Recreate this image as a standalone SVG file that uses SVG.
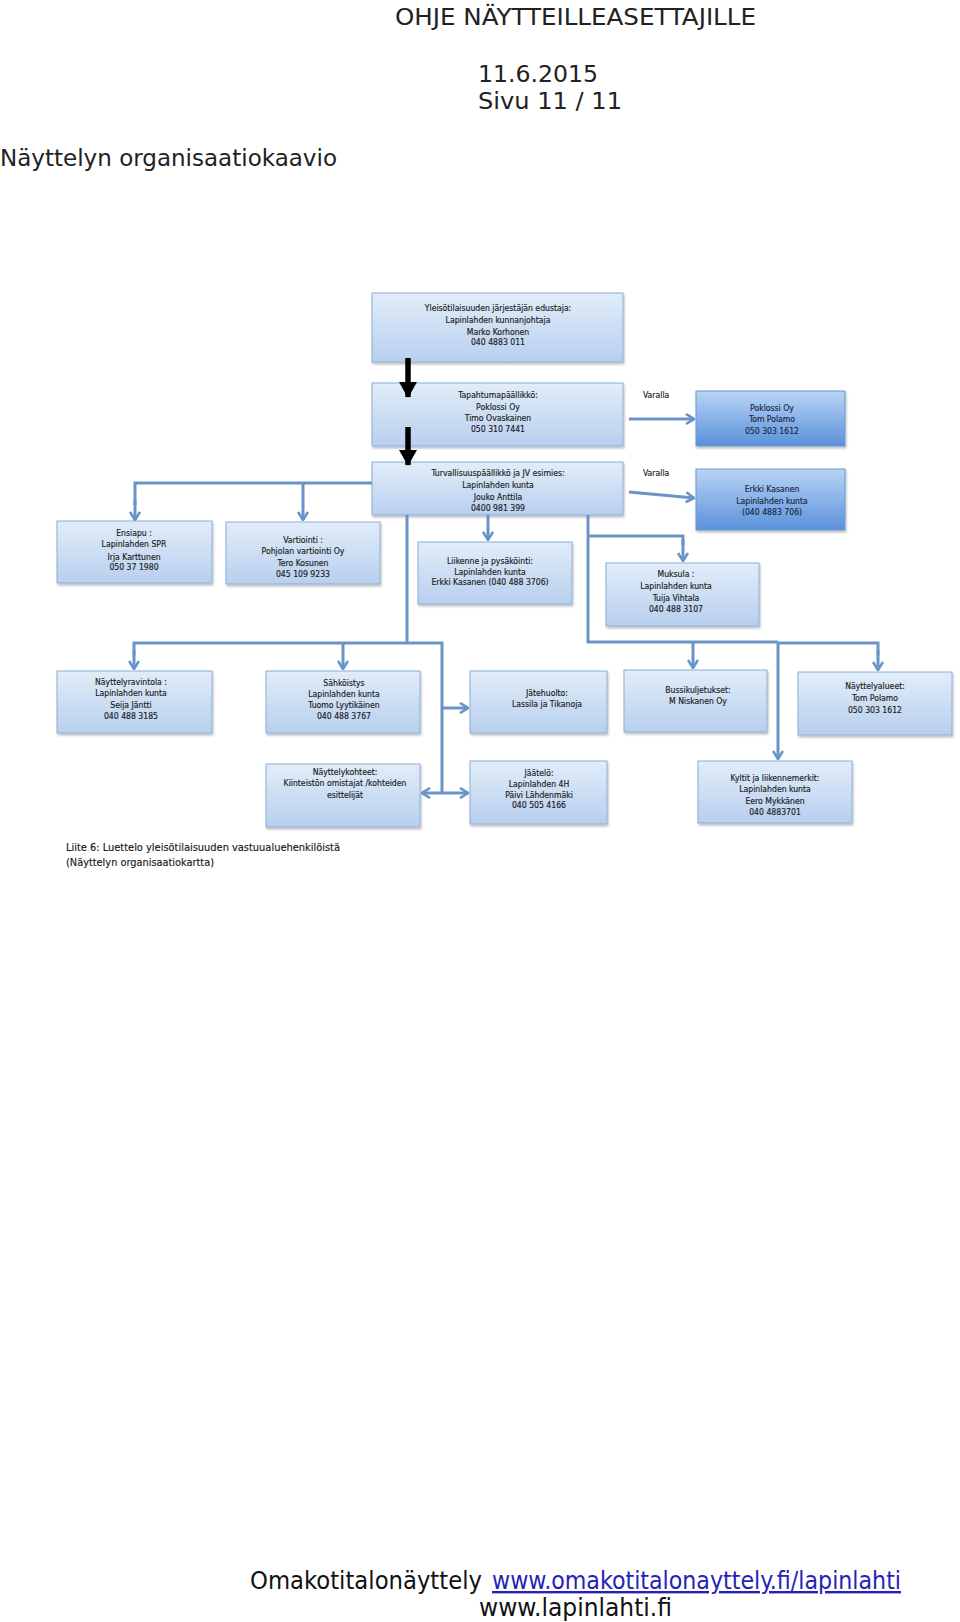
<svg xmlns="http://www.w3.org/2000/svg" width="960" height="1622" viewBox="0 0 960 1622">
<defs>
<linearGradient id="gL" x1="0" y1="0" x2="0" y2="1"><stop offset="0" stop-color="#e2edf9"/><stop offset="1" stop-color="#b7cfee"/></linearGradient>
<linearGradient id="gD" x1="0" y1="0" x2="0" y2="1"><stop offset="0" stop-color="#b9d4f5"/><stop offset="1" stop-color="#5a91db"/></linearGradient>
<marker id="av" viewBox="0 0 10 12" refX="9" refY="6" markerWidth="10" markerHeight="12" markerUnits="userSpaceOnUse" orient="auto"><path d="M1,1 L9,6 L1,11" fill="none" stroke="#6a93c6" stroke-width="2.6"/></marker>
<marker id="ab" viewBox="0 0 16 18" refX="15" refY="9" markerWidth="16" markerHeight="18" markerUnits="userSpaceOnUse" orient="auto"><path d="M0,0 L16,9 L0,18 Z" fill="#000"/></marker>
<filter id="sh" x="-5%" y="-5%" width="115%" height="120%"><feDropShadow dx="1" dy="2" stdDeviation="1.2" flood-color="#000" flood-opacity="0.25"/></filter>
</defs>
<style>
.bx{fill:url(#gL);stroke:#8caed8;stroke-width:1;filter:url(#sh)}
.bd{fill:url(#gD);stroke:#6b98d2;stroke-width:1;filter:url(#sh)}
.t{font-family:"DejaVu Sans Condensed","Liberation Sans",sans-serif;font-size:8.6px;fill:#1a1a1a;stroke:#1a1a1a;stroke-width:0.15;text-anchor:middle}
.td{font-family:"DejaVu Sans Condensed","Liberation Sans",sans-serif;font-size:8.6px;fill:#1a2640;stroke:#1a2640;stroke-width:0.15;text-anchor:middle}
.hd{font-family:"DejaVu Sans Condensed","Liberation Sans",sans-serif;font-size:23px;fill:#222}
.ft{font-family:"DejaVu Sans Condensed","Liberation Sans",sans-serif;font-size:24px;fill:#111}
.lk{fill:#2323b8;text-decoration:underline}
.c{fill:none;stroke:#6a93c6;stroke-width:3}
.ca{fill:none;stroke:#6a93c6;stroke-width:3;marker-end:url(#av)}
.bk{fill:none;stroke:#000;stroke-width:5.5;marker-end:url(#ab)}
.sm{font-family:"DejaVu Sans Condensed","Liberation Sans",sans-serif;font-size:8.6px;fill:#1a1a1a;stroke:#1a1a1a;stroke-width:0.15}
</style>
<rect width="960" height="1622" fill="#fff"/>

<g id="header">
<text class="hd" x="395" y="25" textLength="361" lengthAdjust="spacingAndGlyphs">OHJE NÄYTTEILLEASETTAJILLE</text>
<text class="hd" x="478" y="82" textLength="120" lengthAdjust="spacingAndGlyphs">11.6.2015</text>
<text class="hd" x="478" y="109" textLength="144" lengthAdjust="spacingAndGlyphs">Sivu 11 / 11</text>
<text class="hd" x="0" y="166" textLength="337" lengthAdjust="spacingAndGlyphs">Näyttelyn organisaatiokaavio</text>
</g>

<g id="n-top"><rect class="bx" x="372" y="293" width="251" height="69"/>
<text class="t" x="498" y="311">Yleisötilaisuuden järjestäjän edustaja:</text>
<text class="t" x="498" y="322.5">Lapinlahden kunnanjohtaja</text>
<text class="t" x="498" y="334.5">Marko Korhonen</text>
<text class="t" x="498" y="345">040 4883 011</text></g>

<g id="n-tapahtuma"><rect class="bx" x="372" y="383" width="251" height="63"/>
<text class="t" x="498" y="398">Tapahtumapäällikkö:</text>
<text class="t" x="498" y="409.5">Poklossi Oy</text>
<text class="t" x="498" y="421">Timo Ovaskainen</text>
<text class="t" x="498" y="431.5">050 310 7441</text></g>

<g id="labels">
<text class="sm" x="643" y="398">Varalla</text>
<text class="sm" x="643" y="476">Varalla</text>
</g>

<g id="n-poklossi"><rect class="bd" x="696" y="391" width="149" height="55"/>
<text class="td" x="772" y="411">Poklossi Oy</text>
<text class="td" x="772" y="422">Tom Polamo</text>
<text class="td" x="772" y="434">050 303 1612</text></g>

<g id="n-turvallisuus"><rect class="bx" x="372" y="462" width="251" height="53"/>
<text class="t" x="498" y="476">Turvallisuuspäällikkö ja JV esimies:</text>
<text class="t" x="498" y="488">Lapinlahden kunta</text>
<text class="t" x="498" y="500">Jouko Anttila</text>
<text class="t" x="498" y="511">0400 981 399</text></g>

<g id="n-erkki"><rect class="bd" x="696" y="469" width="149" height="61"/>
<text class="td" x="772" y="492">Erkki Kasanen</text>
<text class="td" x="772" y="504">Lapinlahden kunta</text>
<text class="td" x="772" y="515">(040 4883 706)</text></g>

<g id="n-ensiapu"><rect class="bx" x="57" y="521" width="155" height="62"/>
<text class="t" x="134" y="536">Ensiapu :</text>
<text class="t" x="134" y="547">Lapinlahden SPR</text>
<text class="t" x="134" y="559.5">Irja Karttunen</text>
<text class="t" x="134" y="570">050 37 1980</text></g>

<g id="n-vartiointi"><rect class="bx" x="226" y="522" width="154" height="62"/>
<text class="t" x="303" y="543">Vartiointi :</text>
<text class="t" x="303" y="554">Pohjolan vartiointi Oy</text>
<text class="t" x="303" y="566">Tero Kosunen</text>
<text class="t" x="303" y="577">045 109 9233</text></g>

<g id="n-liikenne"><rect class="bx" x="418" y="542" width="154" height="62"/>
<text class="t" x="490" y="564">Liikenne ja pysäköinti:</text>
<text class="t" x="490" y="574.5">Lapinlahden kunta</text>
<text class="t" x="490" y="585">Erkki Kasanen (040 488 3706)</text></g>

<g id="n-muksula"><rect class="bx" x="606" y="563" width="153" height="63"/>
<text class="t" x="676" y="577">Muksula :</text>
<text class="t" x="676" y="589">Lapinlahden kunta</text>
<text class="t" x="676" y="601">Tuija Vihtala</text>
<text class="t" x="676" y="611.5">040 488 3107</text></g>

<g id="n-ravintola"><rect class="bx" x="57" y="671" width="155" height="62"/>
<text class="t" x="131" y="685">Näyttelyravintola :</text>
<text class="t" x="131" y="696">Lapinlahden kunta</text>
<text class="t" x="131" y="708">Seija Jäntti</text>
<text class="t" x="131" y="719">040 488 3185</text></g>

<g id="n-sahkoistys"><rect class="bx" x="266" y="671" width="154" height="62"/>
<text class="t" x="344" y="685.5">Sähköistys</text>
<text class="t" x="344" y="696.5">Lapinlahden kunta</text>
<text class="t" x="344" y="708">Tuomo Lyytikäinen</text>
<text class="t" x="344" y="718.5">040 488 3767</text></g>

<g id="n-jatehuolto"><rect class="bx" x="470" y="671" width="137" height="62"/>
<text class="t" x="547" y="696">Jätehuolto:</text>
<text class="t" x="547" y="707">Lassila ja Tikanoja</text></g>

<g id="n-bussi"><rect class="bx" x="624" y="670" width="143" height="62"/>
<text class="t" x="698" y="693">Bussikuljetukset:</text>
<text class="t" x="698" y="704">M Niskanen Oy</text></g>

<g id="n-alueet"><rect class="bx" x="798" y="672" width="154" height="63"/>
<text class="t" x="875" y="689">Näyttelyalueet:</text>
<text class="t" x="875" y="701">Tom Polamo</text>
<text class="t" x="875" y="713">050 303 1612</text></g>

<g id="n-kohteet"><rect class="bx" x="266" y="764" width="154" height="63"/>
<text class="t" x="345" y="775">Näyttelykohteet:</text>
<text class="t" x="345" y="786">Kiinteistön omistajat /kohteiden</text>
<text class="t" x="345" y="798">esittelijät</text></g>

<g id="n-jaatelo"><rect class="bx" x="470" y="761" width="137" height="63"/>
<text class="t" x="539" y="776">Jäätelö:</text>
<text class="t" x="539" y="787">Lapinlahden 4H</text>
<text class="t" x="539" y="797.5">Päivi Lähdenmäki</text>
<text class="t" x="539" y="808">040 505 4166</text></g>

<g id="n-kyltit"><rect class="bx" x="698" y="761" width="154" height="62"/>
<text class="t" x="775" y="781">Kyltit ja liikennemerkit:</text>
<text class="t" x="775" y="792">Lapinlahden kunta</text>
<text class="t" x="775" y="804">Eero Mykkänen</text>
<text class="t" x="775" y="815">040 4883701</text></g>

<g id="connectors">
<path class="bk" d="M408,358 V397"/>
<path class="bk" d="M408,427 V465"/>
<path class="c" d="M372,483 H135 V505"/>
<path class="ca" d="M135,500 V520"/>
<path class="ca" d="M303,483 V520"/>
<path class="c" d="M407,515 V643 H134 V655"/>
<path class="ca" d="M134,650 V669"/>
<path class="ca" d="M343,643 V669"/>
<path class="c" d="M407,643 H442 V793"/>
<path class="ca" d="M442,708 H468"/>
<path class="ca" d="M442,793 H468"/>
<path class="ca" d="M442,793 H422"/>
<path class="ca" d="M488,515 V540"/>
<path class="c" d="M588,515 V642 H778"/>
<path class="c" d="M588,536 H683 V545"/>
<path class="ca" d="M683,540 V561"/>
<path class="ca" d="M693,642 V668"/>
<path class="ca" d="M778,642 V759"/>
<path class="c" d="M778,643 H878 V655"/>
<path class="ca" d="M878,650 V670"/>
<path class="ca" d="M629,419 H694"/>
<path class="ca" d="M629,492 L694,498"/>
</g>

<g id="caption">
<text class="sm" x="66" y="851" style="font-size:10.5px" textLength="274" lengthAdjust="spacingAndGlyphs">Liite 6:  Luettelo yleisötilaisuuden vastuualuehenkilöistä</text>
<text class="sm" x="66" y="866" style="font-size:10.5px" textLength="148" lengthAdjust="spacingAndGlyphs">(Näyttelyn organisaatiokartta)</text>
</g>

<g id="footer">
<text class="ft" x="250" y="1589" textLength="232" lengthAdjust="spacingAndGlyphs">Omakotitalonäyttely</text>
<text class="ft lk" x="492" y="1589" textLength="409" lengthAdjust="spacingAndGlyphs">www.omakotitalonayttely.fi/lapinlahti</text>
<text class="ft" x="479" y="1616" textLength="193" lengthAdjust="spacingAndGlyphs">www.lapinlahti.fi</text>
</g>
</svg>
